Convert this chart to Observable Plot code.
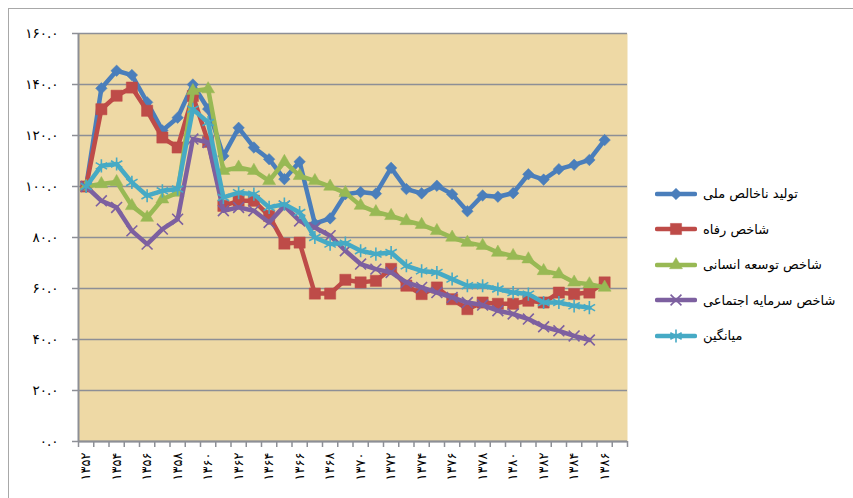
<!DOCTYPE html>
<html>
<head>
<meta charset="utf-8">
<script src="https://cdn.jsdelivr.net/npm/d3@7"></script>
<script src="https://cdn.jsdelivr.net/npm/@observablehq/plot@0.6"></script>
<style>
  html, body { margin: 0; padding: 0; background: #fff; }
  #wrap { position: relative; width: 853px; height: 498px; overflow: hidden; font-family: "DejaVu Sans", sans-serif; }
  #border { position: absolute; left: 8px; top: 8px; width: 900px; height: 600px; border: 1px solid #a8a8a8; box-sizing: border-box; }
  #chart { position: absolute; left: 0; top: 0; }
  #legend { position: absolute; left: 655px; top: 176px; }
  .item { display: flex; align-items: center; height: 35.5px; }
  .item span { font-size: 13px; margin-left: 6px; direction: rtl; color: #000; }
</style>
</head>
<body>
<div id="wrap">
  <div id="border"></div>
  <div id="chart"></div>
  <div id="legend"></div>
</div>
<script>
// Categories (solar years)
const years = [1352,1353,1354,1355,1356,1357,1358,1359,1360,1361,1362,1363,1364,1365,1366,1367,1368,1369,1370,1371,1372,1373,1374,1375,1376,1377,1378,1379,1380,1381,1382,1383,1384,1385,1386];
const axisLastYear = 1387;
const labelYears = [1352,1354,1356,1358,1360,1362,1364,1366,1368,1370,1372,1374,1376,1378,1380,1382,1384,1386];
const yTicks = [0,20,40,60,80,100,120,140,160];

// Series values
const gnp     = [100,138.5,145.4,143.7,133,122,127,140,130.4,112,123,115.3,110.7,102.9,109.7,85.4,87.5,97,97.8,97.2,107.3,99,97.3,100.3,97,90.3,96.5,96,97.4,104.8,102.7,106.8,108.5,110.4,118.2];
const welfare = [100,130.3,135.6,138.8,129.7,119.2,115.3,135.5,117.5,92.4,94.4,94.4,88.5,77.6,78,58,58,63.4,62.4,63,67.7,61.1,57.8,60.4,55.8,51.9,54.5,54,54,55.2,54.5,58.4,57.8,58.4,62.4];
const hdi     = [100,101,101.8,92.4,87.8,95,97.6,137.5,138.2,106.2,107.5,106.2,102.2,109.7,104.2,102.2,100,97.5,92.5,90,88.5,86.5,85,82.6,80,78,76.8,74.1,72.8,71.5,66.9,65.6,62.4,61.7,60.4];
const social  = [100,94.4,91.8,82.6,77.4,83.3,87.2,118.6,117.3,90.5,91.8,90.5,85.9,92.4,86.5,83.9,80.7,74.8,69.6,67.6,66.3,62.4,60.4,58.4,56.5,54.5,53.5,51.3,50,48,45,43.4,41.4,39.8];
const average = [100,108.1,108.8,101.6,96.4,98.3,99,130.3,125.1,95.7,97.6,97,91.8,93.1,89.8,80,77.4,77.8,74.8,73.5,74.1,68.9,66.9,66.3,63.7,61.1,61.1,59.8,58.4,57.8,54.5,54.5,53.2,52.5];

const seriesNames = ["تولید ناخالص ملی","شاخص رفاه","شاخص توسعه انسانی","شاخص سرمایه اجتماعی","میانگین"];
const seriesValues = [gnp, welfare, hdi, social, average];
const seriesColors = ["#4A7EBB","#BE4B48","#98B954","#7D60A0","#46AAC5"];
const seriesSymbols = ["diamond2","square","triangle","times","asterisk"];
const seriesR = [5.2, 6.3, 4.8, 5, 6.2];
const seriesFilled = [true, true, true, false, false];

const fa = s => String(s).replace(/\d/g, d => "۰۱۲۳۴۵۶۷۸۹"[d]);

const tables = seriesValues.map(vals => vals.map((v, i) => ({year: years[i], value: v})));

const boundaries = [];
for (let y = years[0] - 0.5; y <= axisLastYear + 0.5; y += 1) boundaries.push(y);

const axisColor = "#8d8f96";
const seriesMarks = [];
tables.forEach((t, k) => {
  seriesMarks.push(Plot.line(t, {x: "year", y: "value", stroke: seriesColors[k], strokeWidth: 4.5, strokeLinejoin: "round"}));
  seriesMarks.push(Plot.dot(t, {
    x: "year", y: "value", symbol: seriesSymbols[k], r: seriesR[k],
    fill: seriesFilled[k] ? seriesColors[k] : "none",
    stroke: seriesColors[k], strokeWidth: seriesFilled[k] ? 0.5 : 1.6
  }));
});

const chart = Plot.plot({
  width: 853, height: 498,
  marginLeft: 78, marginRight: 226, marginTop: 33, marginBottom: 57,
  x: {type: "linear", domain: [years[0] - 0.5, axisLastYear + 0.5]},
  y: {domain: [0, 160]},
  style: {fontFamily: "DejaVu Sans, sans-serif", fontSize: "13px", background: "transparent", color: "#000"},
  marks: [
    Plot.frame({fill: "#eed9a5", stroke: null}),
    Plot.gridY(yTicks, {stroke: axisColor, strokeOpacity: 1, strokeWidth: 1.5}),
    Plot.axisY({ticks: yTicks, tickFormat: d => fa(d.toFixed(1)), tickSize: 6, tickPadding: 14, stroke: axisColor, strokeWidth: 1.5, label: null, fill: "#000", fontSize: "13.5px"}),
    Plot.axisX({ticks: boundaries, tickFormat: () => "", tickSize: 6, stroke: axisColor, strokeWidth: 1.5, label: null}),
    Plot.axisX({ticks: labelYears, tickFormat: d => fa(d), tickSize: 0, tickPadding: 11, tickRotate: -90, label: null, fontSize: "13px", fill: "#000"}),
    Plot.ruleX([years[0] - 0.5], {stroke: axisColor, strokeWidth: 2}),
    Plot.ruleY([0], {stroke: axisColor, strokeWidth: 2}),
    ...seriesMarks
  ]
});
document.getElementById("chart").appendChild(chart);

// Legend
const legend = d3.select("#legend");
const symMap = {diamond2: d3.symbolDiamond2, square: d3.symbolSquare, triangle: d3.symbolTriangle, times: d3.symbolTimes, asterisk: d3.symbolAsterisk};
seriesNames.forEach((name, k) => {
  const item = legend.append("div").attr("class", "item");
  const svg = item.append("svg").attr("width", 42).attr("height", 16);
  svg.append("line").attr("x1", 2).attr("x2", 40).attr("y1", 8).attr("y2", 8)
    .attr("stroke", seriesColors[k]).attr("stroke-width", 4.5).attr("stroke-linecap", "round");
  svg.append("path").attr("transform", "translate(21,8)")
    .attr("d", d3.symbol(symMap[seriesSymbols[k]], Math.PI * seriesR[k] * seriesR[k])())
    .attr("fill", seriesFilled[k] ? seriesColors[k] : "none")
    .attr("stroke", seriesColors[k]).attr("stroke-width", seriesFilled[k] ? 0.5 : 1.6);
  item.append("span").text(name);
});
</script>
</body>
</html>
